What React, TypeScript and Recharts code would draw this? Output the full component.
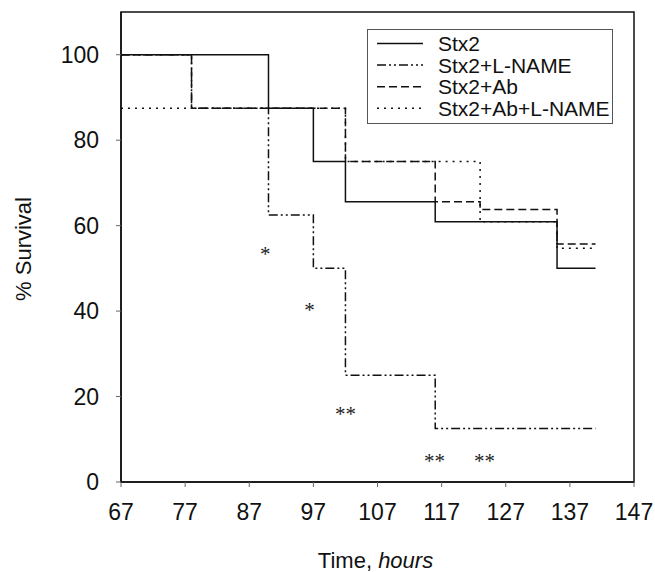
import React from 'react';
import {
  ComposedChart,
  Line,
  Scatter,
  XAxis,
  YAxis,
  Legend,
  ReferenceArea,
} from 'recharts';

// Kaplan-Meier style survival curves (hours vs % survival)
const stx2Hours = [67, 90, 97, 102, 116, 135, 141];
const stx2Survival = [100, 87.5, 75, 65.6, 60.9, 50, 50];

const lnameHours = [67, 78, 90, 97, 102, 116, 141];
const lnameSurvival = [100, 87.5, 62.5, 50, 25, 12.5, 12.5];

const abHours = [67, 78, 102, 116, 123, 135, 141];
const abSurvival = [100, 87.5, 75, 65.6, 63.8, 55.7, 55.7];

const abLnameHours = [67, 102, 123, 135, 141];
const abLnameSurvival = [87.5, 75, 60.9, 54.7, 54.7];

// significance marks
const markHours = [89.5, 96.4, 102, 115.9, 123.7];
const markLevels = [54, 41, 16.7, 5.7, 5.7];
const markTexts = ['*', '*', '**', '**', '**'];

const xTicks = [67, 77, 87, 97, 107, 117, 127, 137, 147];
const yTicks = [0, 20, 40, 60, 80, 100];

const toPoints = (xs: number[], ys: number[]) => xs.map((x, i) => ({ x, y: ys[i] }));

const series = [
  { name: 'Stx2', data: toPoints(stx2Hours, stx2Survival), dash: undefined as string | undefined },
  { name: 'Stx2+L-NAME', data: toPoints(lnameHours, lnameSurvival), dash: '9 3 2 3 2 3' },
  { name: 'Stx2+Ab', data: toPoints(abHours, abSurvival), dash: '8 4' },
  { name: 'Stx2+Ab+L-NAME', data: toPoints(abLnameHours, abLnameSurvival), dash: '2 5' },
];

const marks = markHours.map((x, i) => ({ x, y: markLevels[i], mark: markTexts[i] }));

const FONT = '"Liberation Sans", Arial, Helvetica, sans-serif';

function LegendBox() {
  return (
    <svg width={247} height={96} style={{ display: 'block' }}>
      <rect x={0.5} y={0.5} width={245} height={94} fill="#fff" stroke="#555" strokeWidth={1} />
      {series.map((s, i) => {
        const cy = 14.5 + i * 21.6;
        return (
          <g key={s.name}>
            <line x1={10} x2={56} y1={cy} y2={cy} stroke="#111" strokeWidth={1.5} strokeDasharray={s.dash} />
            <text x={71} y={cy} dy="0.36em" fontFamily={FONT} fontSize={21} fill="#111">
              {s.name}
            </text>
          </g>
        );
      })}
    </svg>
  );
}

function StarMark(props: any) {
  const { cx, cy, payload } = props;
  return (
    <text x={cx} y={cy + 10} textAnchor="middle" fontFamily='"Liberation Serif", "Times New Roman", serif' fontSize={21} fill="#222">
      {payload.mark}
    </text>
  );
}

function XTitle(props: any) {
  const vb = props.viewBox;
  return (
    <text x={vb.x + vb.width / 2 - 2} y={vb.y + 86} textAnchor="middle" fontFamily={FONT} fontSize={22} fill="#111">
      Time, <tspan fontStyle="italic">hours</tspan>
    </text>
  );
}

function YTitle(props: any) {
  const vb = props.viewBox;
  const cy = vb.y + vb.height / 2 + 2;
  return (
    <text x={31} y={cy} transform={`rotate(-90, 31, ${cy})`} textAnchor="middle" fontFamily={FONT} fontSize={22} fill="#111">
      % Survival
    </text>
  );
}

export default function App() {
  return (
    <div style={{ position: 'absolute', left: 0, top: 0, background: '#fff' }}>
      <ComposedChart width={655} height={572} margin={{ top: 12, right: 21, left: 0, bottom: 0 }}>
        <XAxis
          type="number"
          dataKey="x"
          domain={[67, 147]}
          ticks={xTicks}
          allowDataOverflow
          height={90}
          tickSize={5}
          tickMargin={17}
          tick={{ fontFamily: FONT, fontSize: 23, fill: '#111' }}
          tickLine={{ stroke: '#666' }}
          axisLine={{ stroke: '#111', strokeWidth: 1.5 }}
          label={(p: any) => <XTitle {...p} />}
        />
        <YAxis
          type="number"
          dataKey="y"
          domain={[0, 110]}
          ticks={yTicks}
          allowDataOverflow
          width={121}
          tickSize={5}
          tickMargin={17}
          tick={{ fontFamily: FONT, fontSize: 23, fill: '#111' }}
          tickLine={{ stroke: '#666' }}
          axisLine={{ stroke: '#111', strokeWidth: 1.5 }}
          label={(p: any) => <YTitle {...p} />}
        />
        <ReferenceArea x1={67} x2={147} y1={0} y2={110} fill="none" stroke="#111" strokeWidth={1.5} ifOverflow="visible" />
        {series.map((s) => (
          <Line
            key={s.name}
            name={s.name}
            data={s.data}
            dataKey="y"
            type="stepAfter"
            stroke="#111"
            strokeWidth={1.5}
            strokeDasharray={s.dash}
            dot={false}
            activeDot={false}
            isAnimationActive={false}
          />
        ))}
        <Scatter data={marks} dataKey="y" shape={StarMark} legendType="none" isAnimationActive={false} />
        <Legend
          layout="vertical"
          align="center"
          verticalAlign="middle"
          content={() => <LegendBox />}
          wrapperStyle={{ left: 367, top: 29, width: 247, height: 96 }}
        />
      </ComposedChart>
    </div>
  );
}
